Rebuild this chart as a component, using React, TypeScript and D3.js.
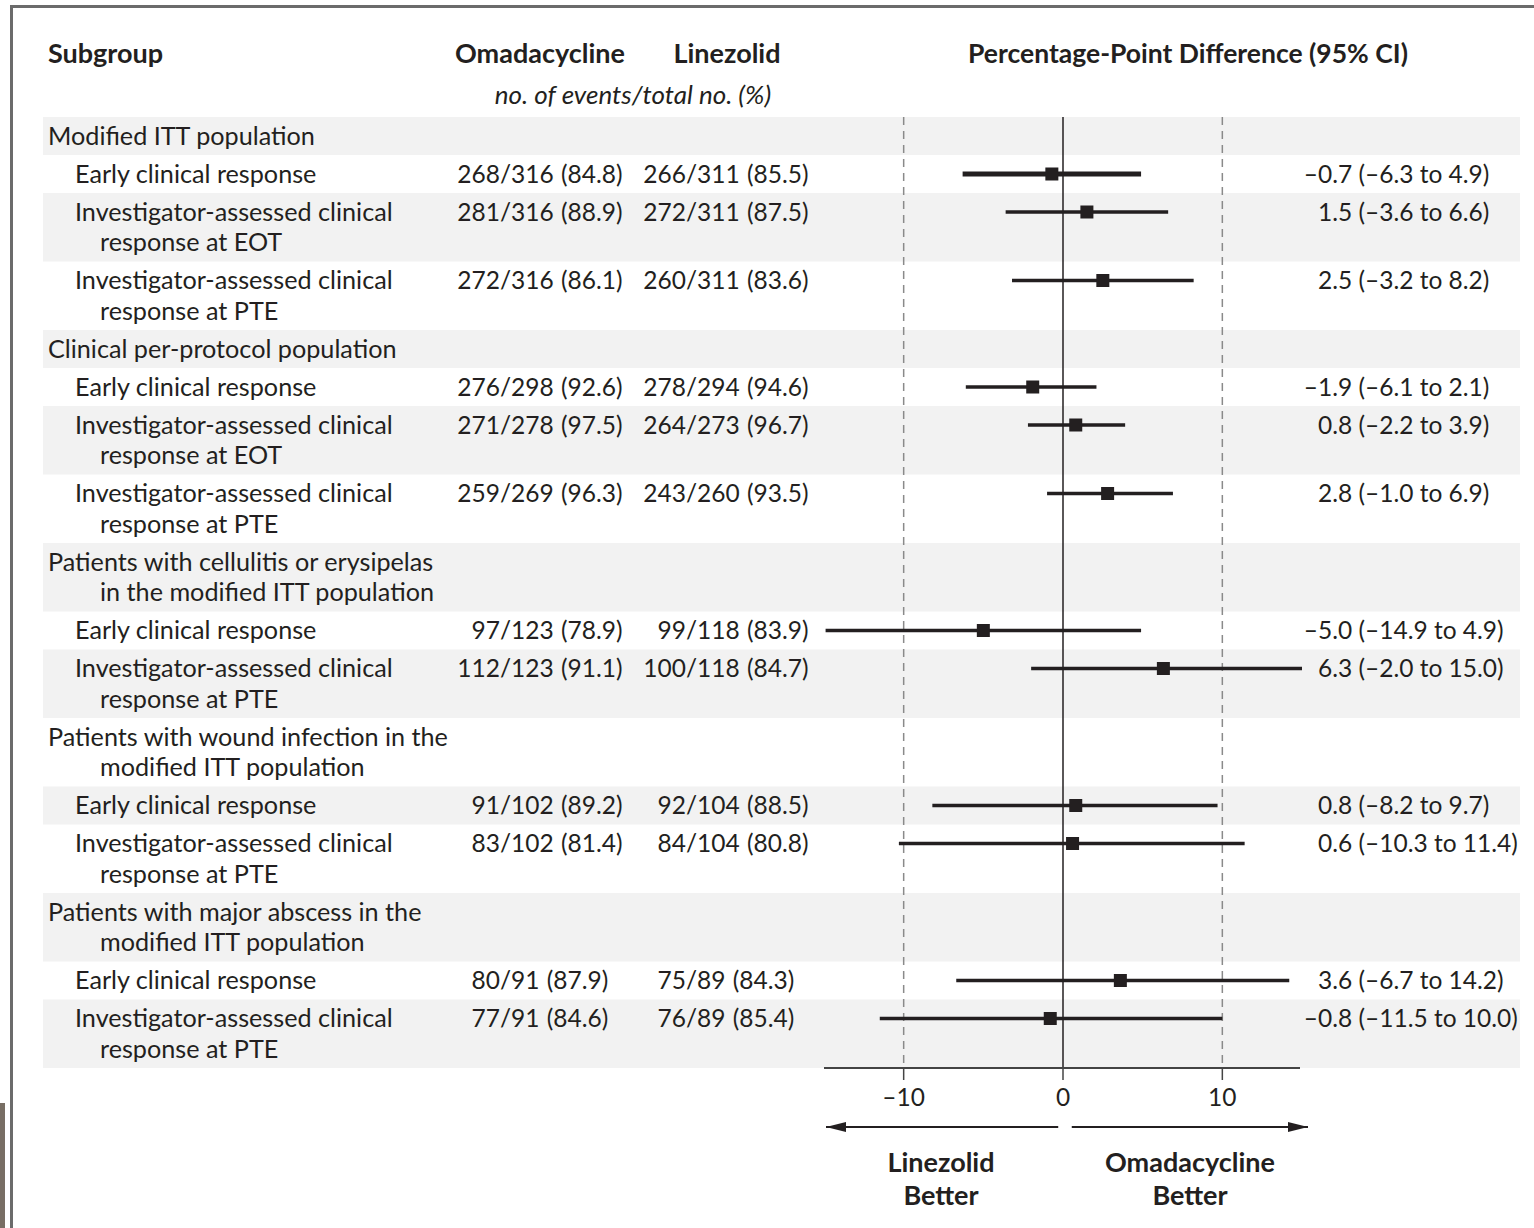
import React from 'react';
import * as d3 from 'd3';

// subgroup labels, one entry per band (level 0 = population header, 1 = outcome)
const labels: string[][] = [
  ['Modified ITT population'],
  ['Early clinical response'],
  ['Investigator-assessed clinical', 'response at EOT'],
  ['Investigator-assessed clinical', 'response at PTE'],
  ['Clinical per-protocol population'],
  ['Early clinical response'],
  ['Investigator-assessed clinical', 'response at EOT'],
  ['Investigator-assessed clinical', 'response at PTE'],
  ['Patients with cellulitis or erysipelas', 'in the modified ITT population'],
  ['Early clinical response'],
  ['Investigator-assessed clinical', 'response at PTE'],
  ['Patients with wound infection in the', 'modified ITT population'],
  ['Early clinical response'],
  ['Investigator-assessed clinical', 'response at PTE'],
  ['Patients with major abscess in the', 'modified ITT population'],
  ['Early clinical response'],
  ['Investigator-assessed clinical', 'response at PTE'],
];
const levels = [0, 1, 1, 1, 0, 1, 1, 1, 0, 1, 1, 0, 1, 1, 0, 1, 1];

const omadacycline = ['', '268/316 (84.8)', '281/316 (88.9)', '272/316 (86.1)', '', '276/298 (92.6)', '271/278 (97.5)', '259/269 (96.3)', '', '97/123 (78.9)', '112/123 (91.1)', '', '91/102 (89.2)', '83/102 (81.4)', '', '80/91 (87.9)', '77/91 (84.6)'];
const linezolid = ['', '266/311 (85.5)', '272/311 (87.5)', '260/311 (83.6)', '', '278/294 (94.6)', '264/273 (96.7)', '243/260 (93.5)', '', '99/118 (83.9)', '100/118 (84.7)', '', '92/104 (88.5)', '84/104 (80.8)', '', '75/89 (84.3)', '76/89 (85.4)'];
const estimate = [null, -0.7, 1.5, 2.5, null, -1.9, 0.8, 2.8, null, -5.0, 6.3, null, 0.8, 0.6, null, 3.6, -0.8];
const lower = [null, -6.3, -3.6, -3.2, null, -6.1, -2.2, -1.0, null, -14.9, -2.0, null, -8.2, -10.3, null, -6.7, -11.5];
const upper = [null, 4.9, 6.6, 8.2, null, 2.1, 3.9, 6.9, null, 4.9, 15.0, null, 9.7, 11.4, null, 14.2, 10.0];

const xTicks = [-10, 0, 10];

const W = 1534;
const H = 1228;
const INK = '#231f20';
const FONT = 'Lato, "Open Sans", sans-serif';
const FS = 24;
const LABEL_FS = 25.2;

const fmt = (v: number) => (v < 0 ? '\u2013' : '') + Math.abs(v).toFixed(1);

export default function App() {
  const x = d3.scaleLinear().domain([-15, 15]).range([824, 1302]);

  const top = 117;
  const heights = labels.map(l => (l.length > 1 ? 68.5 : 38));
  const tops = heights.map((_, i) => top + d3.sum(heights.slice(0, i)));
  const bottom = top + d3.sum(heights);

  const slashOma = 500;
  const slashLin = 686;
  const ciX = 1318;

  const splitSlash = (s: string) => {
    const k = s.indexOf('/');
    return [s.slice(0, k), s.slice(k)];
  };

  return (
    <svg width={W} height={H} style={{ position: 'absolute', left: 0, top: 0, background: '#fff' }}
      fontFamily={FONT} fill={INK}>
      {/* frame */}
      <line x1={10} x2={W} y1={6.5} y2={6.5} stroke="#6b6b6b" strokeWidth={3} />
      <line x1={11.5} x2={11.5} y1={5} y2={H} stroke="#6b6b6b" strokeWidth={3} />
      <rect x={0} y={1103} width={5} height={H - 1103} fill="#786e64" />

      {/* headers */}
      <text x={48} y={63} fontSize={27} fontWeight={700}>Subgroup</text>
      <text x={540} y={63} fontSize={27} fontWeight={700} textAnchor="middle">Omadacycline</text>
      <text x={727} y={63} fontSize={27} fontWeight={700} textAnchor="middle">Linezolid</text>
      <text x={633} y={104} fontSize={26} fontStyle="italic" textAnchor="middle">no. of events/total no. (%)</text>
      <text x={1188} y={63} fontSize={26.5} fontWeight={700} textAnchor="middle">Percentage-Point Difference (95% CI)</text>

      {/* bands */}
      {tops.map((t, i) => i % 2 === 0 && (
        <rect key={'b' + i} x={43} y={t} width={1477} height={heights[i]} fill="#f2f2f2" />
      ))}

      {/* reference lines */}
      {[-10, 10].map(v => (
        <line key={'d' + v} x1={x(v)} x2={x(v)} y1={top} y2={bottom} stroke="#8a8a8a"
          strokeWidth={1.5} strokeDasharray="8,6" />
      ))}
      <line x1={x(0)} x2={x(0)} y1={top} y2={bottom} stroke={INK} strokeWidth={1.5} />

      {/* rows */}
      {labels.map((lines, i) => {
        const t = tops[i];
        const y1 = t + 19;
        const indent = levels[i] === 0 ? 48 : 75;
        const est = estimate[i];
        return (
          <g key={'r' + i}>
            {lines.map((s, j) => (
              <text key={j} x={j === 0 ? indent : 100} y={y1 + j * 30.5 + 8.5} fontSize={LABEL_FS}>{s}</text>
            ))}
            {omadacycline[i] && (
              <text y={y1 + 8.5} fontSize={FS + 0.5} wordSpacing={1}>
                <tspan x={slashOma} textAnchor="end">{splitSlash(omadacycline[i])[0]}</tspan>
                <tspan x={slashOma} textAnchor="start">{splitSlash(omadacycline[i])[1]}</tspan>
              </text>
            )}
            {linezolid[i] && (
              <text y={y1 + 8.5} fontSize={FS + 0.5} wordSpacing={1}>
                <tspan x={slashLin} textAnchor="end">{splitSlash(linezolid[i])[0]}</tspan>
                <tspan x={slashLin} textAnchor="start">{splitSlash(linezolid[i])[1]}</tspan>
              </text>
            )}
            {est !== null && (
              <g>
                <line x1={x(lower[i] as number)} x2={x(upper[i] as number)} y1={y1} y2={y1}
                  stroke={INK} strokeWidth={i === 1 ? 5 : 3.5} />
                <rect x={x(est) - 6.5} y={y1 - 6.5} width={13} height={13} fill={INK} />
                <text y={y1 + 8.5} fontSize={FS + 0.5}>
                  {est < 0 && <tspan x={ciX} textAnchor="end">{'\u2013'}</tspan>}
                  <tspan x={ciX} textAnchor="start">
                    {Math.abs(est).toFixed(1) + ' (' + fmt(lower[i] as number) + ' to ' + fmt(upper[i] as number) + ')'}
                  </tspan>
                </text>
              </g>
            )}
          </g>
        );
      })}

      {/* axis */}
      <line x1={824} x2={1300} y1={bottom} y2={bottom} stroke="#444" strokeWidth={2} />
      {xTicks.map(v => (
        <g key={'t' + v}>
          <line x1={x(v)} x2={x(v)} y1={bottom} y2={bottom + 12} stroke="#444" strokeWidth={1.5} />
          <text x={x(v)} y={bottom + 38} fontSize={FS + 0.5} textAnchor="middle">{fmt(v).replace('.0', '')}</text>
        </g>
      ))}

      {/* direction arrows */}
      <defs>
        <marker id="ah" viewBox="0 0 20 10" refX={20} refY={5} markerWidth={20} markerHeight={10}
          markerUnits="userSpaceOnUse" orient="auto">
          <path d="M0,0 L20,5 L0,10 Z" fill={INK} />
        </marker>
      </defs>
      <line x1={x(-0.3)} x2={826} y1={1127} y2={1127} stroke={INK} strokeWidth={2} markerEnd="url(#ah)" />
      <line x1={x(0.55)} x2={1308} y1={1127} y2={1127} stroke={INK} strokeWidth={2} markerEnd="url(#ah)" />
      <text x={941} y={1172} fontSize={27} fontWeight={700} textAnchor="middle">Linezolid</text>
      <text x={941} y={1205} fontSize={27} fontWeight={700} textAnchor="middle">Better</text>
      <text x={1190} y={1172} fontSize={27} fontWeight={700} textAnchor="middle">Omadacycline</text>
      <text x={1190} y={1205} fontSize={27} fontWeight={700} textAnchor="middle">Better</text>
    </svg>
  );
}
